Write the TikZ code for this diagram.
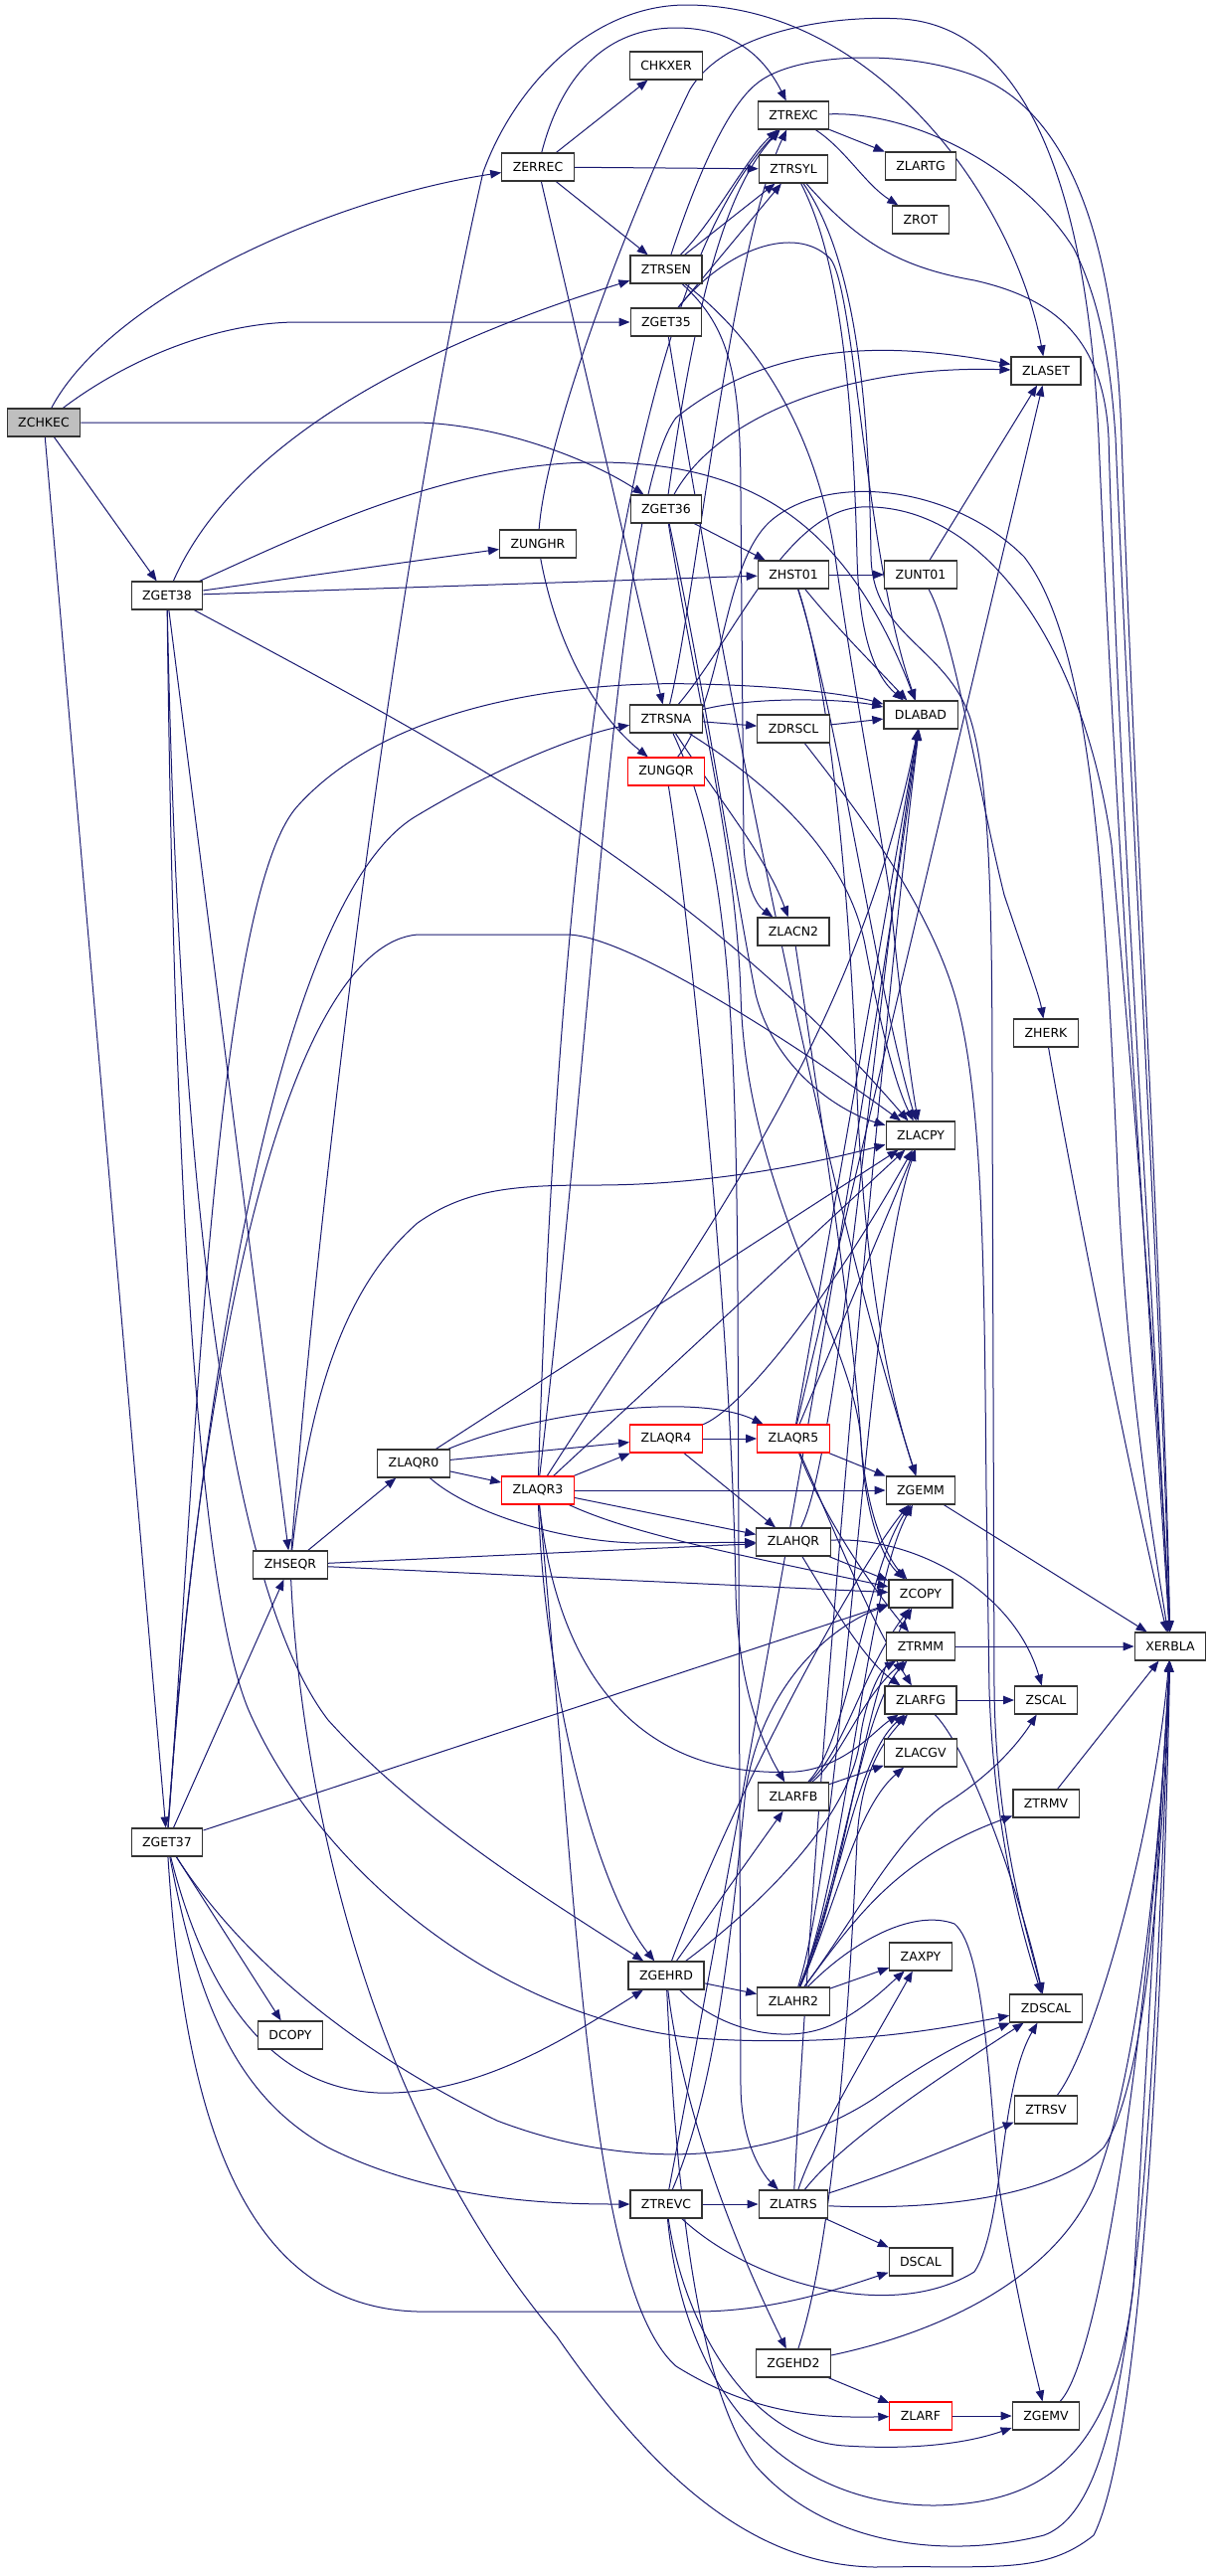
\documentclass[tikz,border=0pt]{standalone}
\usepackage{fontspec}
\setmainfont{DejaVu Sans}
\usetikzlibrary{arrows.meta}
\definecolor{edgec}{HTML}{191970}
\definecolor{rootfill}{HTML}{BFBFBF}
\definecolor{boxline}{HTML}{333333}
\pgfdeclarelayer{edges}
\pgfsetlayers{edges,main}
\begin{document}
\begin{tikzpicture}[x=1pt,y=-1pt,
  nb/.style={draw=boxline, line width=1.2pt, fill=white, minimum height=28pt, inner xsep=11pt, inner ysep=0pt, font=\fontsize{12.5}{14}\selectfont},
  rb/.style={nb, draw=red},
  edg/.style={draw=edgec, line width=1pt, -{Triangle[length=11pt,width=8.5pt]}}]
\useasboundingbox (0,0) rectangle (1216,2591);
\node[nb,fill=rootfill] (ZCHKEC) at (44,425) {ZCHKEC};
\node[nb] (ZERREC) at (541,168) {ZERREC};
\node[nb] (CHKXER) at (670,66) {CHKXER};
\node[nb] (ZTREXC) at (798,116) {ZTREXC};
\node[nb] (ZTRSYL) at (798,170) {ZTRSYL};
\node[nb] (ZLARTG) at (926,167) {ZLARTG};
\node[nb] (ZROT) at (926,221) {ZROT};
\node[nb] (ZTRSEN) at (670,271) {ZTRSEN};
\node[nb] (ZGET35) at (670,324) {ZGET35};
\node[nb] (ZLASET) at (1052,373) {ZLASET};
\node[nb] (ZGET38) at (168,599) {ZGET38};
\node[nb] (ZUNGHR) at (541,547) {ZUNGHR};
\node[nb] (ZGET36) at (670,512) {ZGET36};
\node[nb] (ZHST01) at (798,578) {ZHST01};
\node[nb] (ZUNT01) at (926,578) {ZUNT01};
\node[nb] (ZTRSNA) at (670,723) {ZTRSNA};
\node[nb] (ZDRSCL) at (798,733) {ZDRSCL};
\node[nb] (DLABAD) at (926,719) {DLABAD};
\node[rb] (ZUNGQR) at (670,776) {ZUNGQR};
\node[nb] (ZLACN2) at (798,937) {ZLACN2};
\node[nb] (ZHERK) at (1052,1039) {ZHERK};
\node[nb] (ZLACPY) at (926,1142) {ZLACPY};
\node[nb] (ZLAQR0) at (416,1472) {ZLAQR0};
\node[rb] (ZLAQR3) at (541,1499) {ZLAQR3};
\node[nb] (ZHSEQR) at (292,1574) {ZHSEQR};
\node[rb] (ZLAQR4) at (670,1447) {ZLAQR4};
\node[rb] (ZLAQR5) at (798,1447) {ZLAQR5};
\node[nb] (ZGEMM) at (926,1499) {ZGEMM};
\node[nb] (ZLAHQR) at (798,1551) {ZLAHQR};
\node[nb] (ZCOPY) at (926,1603) {ZCOPY};
\node[nb] (ZTRMM) at (926,1656) {ZTRMM};
\node[nb] (XERBLA) at (1177,1656) {XERBLA};
\node[nb] (ZLARFG) at (926,1710) {ZLARFG};
\node[nb] (ZSCAL) at (1052,1710) {ZSCAL};
\node[nb] (ZGET37) at (168,1853) {ZGET37};
\node[nb] (DCOPY) at (292,2047) {DCOPY};
\node[nb] (ZLACGV) at (926,1763) {ZLACGV};
\node[nb] (ZLARFB) at (798,1807) {ZLARFB};
\node[nb] (ZTRMV) at (1052,1814) {ZTRMV};
\node[nb] (ZGEHRD) at (670,1987) {ZGEHRD};
\node[nb] (ZAXPY) at (926,1968) {ZAXPY};
\node[nb] (ZLAHR2) at (798,2013) {ZLAHR2};
\node[nb] (ZDSCAL) at (1052,2020) {ZDSCAL};
\node[nb] (ZTRSV) at (1052,2122) {ZTRSV};
\node[nb] (ZTREVC) at (670,2217) {ZTREVC};
\node[nb] (ZLATRS) at (798,2217) {ZLATRS};
\node[nb] (DSCAL) at (926,2275) {DSCAL};
\node[nb] (ZGEHD2) at (798,2377) {ZGEHD2};
\node[rb] (ZLARF) at (926,2430) {ZLARF};
\node[nb] (ZGEMV) at (1052,2430) {ZGEMV};

\begin{pgfonlayer}{edges}
% ZCHKEC
\draw[edg] (ZCHKEC) .. controls (110,300) and (330,200) .. (ZERREC);
\draw[edg] (ZCHKEC) .. controls (130,360) and (220,324) .. (300,324) -- (ZGET35);
\draw[edg] (ZCHKEC) -- (420,425) .. controls (500,427) and (590,460) .. (ZGET36);
\draw[edg] (ZCHKEC) -- (ZGET38);
\draw[edg] (ZCHKEC) -- (ZGET37);
% ZERREC
\draw[edg] (ZERREC) -- (CHKXER);
\draw[edg] (ZERREC) .. controls (565,75) and (610,28) .. (680,28) .. controls (740,28) and (770,60) .. (ZTREXC);
\draw[edg] (ZERREC) -- (ZTRSYL);
\draw[edg] (ZERREC) -- (ZTRSEN);
\draw[edg] (ZERREC) -- (ZTRSNA);
% ZGET35
\draw[edg] (ZGET35) -- (ZTRSYL);
\draw[edg] (ZGET35) .. controls (730,250) and (800,225) .. (835,260) .. controls (860,290) and (870,560) .. (DLABAD);
\draw[edg] (ZGET35) .. controls (730,700) and (830,1200) .. (ZGEMM);
% ZTRSYL
\draw[edg] (ZTRSYL) .. controls (845,260) and (858,400) .. (862,560) .. controls (864,640) and (880,680) .. (DLABAD);
\draw[edg] (ZTRSYL) .. controls (860,260) and (874,400) .. (876,560) .. controls (878,640) and (950,650) .. (975,720) .. controls (995,780) and (998,900) .. (998,1100) -- (1000,1700) .. controls (1002,1850) and (1035,1950) .. (ZDSCAL);
\draw[edg] (ZTRSYL) .. controls (860,240) and (900,268) .. (980,282) .. controls (1060,300) and (1110,340) .. (1115,440) .. controls (1125,800) and (1160,1300) .. (XERBLA);
% ZTREXC
\draw[edg] (ZTREXC) -- (ZLARTG);
\draw[edg] (ZTREXC) .. controls (850,150) and (870,185) .. (ZROT);
\draw[edg] (ZTREXC) .. controls (920,112) and (1030,170) .. (1080,250) .. controls (1110,310) and (1118,380) .. (1122,440) .. controls (1137,800) and (1167,1300) .. (XERBLA);
% ZTRSEN
\draw[edg] (ZTRSEN) .. controls (720,220) and (750,160) .. (ZTREXC);
\draw[edg] (ZTRSEN) -- (ZTRSYL);
\draw[edg] (ZTRSEN) .. controls (735,330) and (745,380) .. (745,500) -- (748,850) .. controls (750,890) and (760,910) .. (ZLACN2);
\draw[edg] (ZTRSEN) .. controls (760,340) and (820,430) .. (840,560) .. controls (860,700) and (880,800) .. (895,900) .. controls (905,1000) and (915,1080) .. (ZLACPY);
\draw[edg] (ZTRSEN) .. controls (700,180) and (730,110) .. (760,85) .. controls (800,50) and (930,48) .. (1000,85) .. controls (1080,130) and (1122,250) .. (1128,440) .. controls (1140,800) and (1170,1300) .. (XERBLA);
% ZGET36
\draw[edg] (ZGET36) .. controls (700,300) and (730,190) .. (ZTREXC);
\draw[edg] (ZGET36) .. controls (720,420) and (850,367) .. (ZLASET);
\draw[edg] (ZGET36) -- (ZHST01);
\draw[edg] (ZGET36) .. controls (710,700) and (740,900) .. (760,1000) .. controls (780,1080) and (850,1120) .. (ZLACPY);
\draw[edg] (ZGET36) .. controls (700,700) and (740,850) .. (745,1000) .. controls (750,1200) and (860,1350) .. (866,1450) .. controls (870,1530) and (890,1570) .. (ZCOPY);
% ZGET38
\draw[edg] (ZGET38) .. controls (220,480) and (350,370) .. (ZTRSEN);
\draw[edg] (ZGET38) -- (ZUNGHR);
\draw[edg] (ZGET38) .. controls (300,540) and (450,465) .. (600,465) .. controls (750,465) and (850,520) .. (DLABAD);
\draw[edg] (ZGET38) -- (ZHST01);
\draw[edg] (ZGET38) .. controls (450,750) and (700,880) .. (ZLACPY);
\draw[edg] (ZGET38) -- (ZHSEQR);
\draw[edg] (ZGET38) .. controls (180,1200) and (230,1600) .. (330,1730) .. controls (420,1830) and (550,1910) .. (ZGEHRD);
\draw[edg] (ZGET38) .. controls (175,1200) and (200,1600) .. (250,1720) .. controls (320,1880) and (500,2030) .. (700,2050) .. controls (850,2060) and (950,2040) .. (ZDSCAL);
% ZGET37
\draw[edg] (ZGET37) -- (ZHSEQR);
\draw[edg] (ZGET37) -- (ZCOPY);
\draw[edg] (ZGET37) .. controls (200,1400) and (280,900) .. (420,820) .. controls (520,760) and (600,735) .. (ZTRSNA);
\draw[edg] (ZGET37) .. controls (195,1500) and (215,900) .. (300,810) .. controls (400,700) and (600,685) .. (700,688) .. controls (800,690) and (860,700) .. (DLABAD);
\draw[edg] (ZGET37) .. controls (205,1300) and (300,950) .. (420,940) -- (570,940) .. controls (630,940) and (800,1050) .. (ZLACPY);
\draw[edg] (ZGET37) -- (DCOPY);
\draw[edg] (ZGET37) .. controls (210,2020) and (280,2100) .. (380,2105) .. controls (480,2108) and (570,2050) .. (ZGEHRD);
\draw[edg] (ZGET37) .. controls (200,2020) and (240,2110) .. (330,2160) .. controls (440,2215) and (560,2217) .. (ZTREVC);
\draw[edg] (ZGET37) .. controls (185,2120) and (240,2320) .. (420,2325) -- (700,2325) .. controls (780,2325) and (850,2300) .. (DSCAL);
\draw[edg] (ZGET37) .. controls (230,1950) and (330,2050) .. (500,2133) .. controls (650,2190) and (790,2170) .. (880,2110) .. controls (950,2060) and (990,2045) .. (ZDSCAL);
% ZUNGHR
\draw[edg] (ZUNGHR) .. controls (560,650) and (600,720) .. (ZUNGQR);
\draw[edg] (ZUNGHR) .. controls (550,430) and (640,200) .. (694,90) .. controls (730,30) and (840,15) .. (907,19) .. controls (1000,25) and (1090,120) .. (1105,440) .. controls (1120,800) and (1155,1300) .. (XERBLA);
% ZUNGQR
\draw[edg] (ZUNGQR) .. controls (690,900) and (735,1300) .. (740,1600) .. controls (742,1700) and (770,1760) .. (ZLARFB);
\draw[edg] (ZUNGQR) .. controls (730,700) and (725,560) .. (780,520) .. controls (840,475) and (960,490) .. (1030,560) .. controls (1100,650) and (1112,900) .. (1125,1200) .. controls (1135,1400) and (1160,1550) .. (XERBLA);
% ZTRSNA
\draw[edg] (ZTRSNA) .. controls (760,700) and (850,703) .. (DLABAD);
\draw[edg] (ZTRSNA) -- (ZDRSCL);
\draw[edg] (ZTRSNA) .. controls (700,600) and (735,250) .. (ZTREXC);
\draw[edg] (ZTRSNA) .. controls (720,800) and (770,860) .. (ZLACN2);
\draw[edg] (ZTRSNA) .. controls (760,780) and (850,850) .. (870,950) .. controls (885,1030) and (900,1090) .. (ZLACPY);
\draw[edg] (ZTRSNA) .. controls (730,850) and (740,1000) .. (742,1300) -- (745,2100) .. controls (746,2160) and (770,2190) .. (ZLATRS);
\draw[edg] (ZTRSNA) .. controls (740,640) and (790,515) .. (866,510) .. controls (990,505) and (1090,650) .. (1118,850) .. controls (1140,1100) and (1165,1400) .. (XERBLA);
% ZDRSCL
\draw[edg] (ZDRSCL) -- (DLABAD);
\draw[edg] (ZDRSCL) .. controls (850,800) and (930,900) .. (960,1000) .. controls (990,1100) and (990,1300) .. (992,1500) -- (995,1700) .. controls (1000,1850) and (1030,1950) .. (ZDSCAL);
% ZHST01
\draw[edg] (ZHST01) -- (ZUNT01);
\draw[edg] (ZHST01) .. controls (840,630) and (880,670) .. (DLABAD);
\draw[edg] (ZHST01) .. controls (830,680) and (860,850) .. (880,950) .. controls (895,1030) and (910,1090) .. (ZLACPY);
\draw[edg] (ZHST01) .. controls (835,690) and (855,900) .. (862,1100) .. controls (870,1300) and (900,1420) .. (ZGEMM);
% ZUNT01, ZHERK, ZLACN2
\draw[edg] (ZUNT01) -- (ZLASET);
\draw[edg] (ZUNT01) .. controls (960,640) and (985,800) .. (1010,900) .. controls (1030,960) and (1045,1000) .. (ZHERK);
\draw[edg] (ZHERK) .. controls (1080,1200) and (1140,1500) .. (XERBLA);
\draw[edg] (ZLACN2) .. controls (830,1150) and (860,1350) .. (866,1450) .. controls (872,1530) and (895,1570) .. (ZCOPY);
% ZHSEQR
\draw[edg] (ZHSEQR) -- (ZLAQR0);
\draw[edg] (ZHSEQR) -- (ZLAHQR);
\draw[edg] (ZHSEQR) -- (ZCOPY);
\draw[edg] (ZHSEQR) .. controls (310,1420) and (340,1300) .. (420,1230) .. controls (470,1195) and (520,1192) .. (600,1192) .. controls (700,1192) and (800,1175) .. (ZLACPY);
\draw[edg] (ZHSEQR) .. controls (320,1200) and (400,550) .. (486,173) .. controls (520,80) and (600,5) .. (690,5) .. controls (880,5) and (1020,200) .. (ZLASET);
\draw[edg] (ZHSEQR) .. controls (300,1750) and (350,2100) .. (560,2350) .. controls (650,2480) and (750,2580) .. (880,2582) .. controls (1000,2580) and (1050,2590) .. (1100,2550) .. controls (1150,2450) and (1170,2000) .. (XERBLA);
% ZLAQR0
\draw[edg] (ZLAQR0) -- (ZLAQR3);
\draw[edg] (ZLAQR0) -- (ZLAQR4);
\draw[edg] (ZLAQR0) .. controls (540,1420) and (700,1400) .. (ZLAQR5);
\draw[edg] (ZLAQR0) -- (ZLACPY);
\draw[edg] (ZLAQR0) .. controls (470,1520) and (560,1550) .. (640,1552) -- (ZLAHQR);
% ZLAQR3
\draw[edg] (ZLAQR3) -- (ZLAQR4);
\draw[edg] (ZLAQR3) -- (ZGEMM);
\draw[edg] (ZLAQR3) -- (ZLAHQR);
\draw[edg] (ZLAQR3) .. controls (640,1545) and (760,1567) .. (ZCOPY);
\draw[edg] (ZLAQR3) -- (ZLACPY);
\draw[edg] (ZLAQR3) .. controls (700,1250) and (860,1050) .. (DLABAD);
\draw[edg] (ZLAQR3) .. controls (600,1000) and (620,500) .. (680,420) .. controls (780,340) and (900,345) .. (ZLASET);
\draw[edg] (ZLAQR3) .. controls (560,900) and (620,300) .. (ZTREXC);
\draw[edg] (ZLAQR3) .. controls (548,1700) and (600,1900) .. (ZGEHRD);
\draw[edg] (ZLAQR3) .. controls (560,1680) and (640,1790) .. (800,1782) .. controls (850,1778) and (880,1740) .. (ZLARFG);
\draw[edg] (ZLAQR3) .. controls (580,1900) and (590,2300) .. (680,2380) .. controls (760,2430) and (830,2432) .. (ZLARF);
% ZLAQR4
\draw[edg] (ZLAQR4) -- (ZLAQR5);
\draw[edg] (ZLAQR4) -- (ZLAHQR);
\draw[edg] (ZLAQR4) .. controls (740,1420) and (820,1330) .. (ZLACPY);
% ZLAQR5
\draw[edg] (ZLAQR5) -- (ZGEMM);
\draw[edg] (ZLAQR5) -- (ZLACPY);
\draw[edg] (ZLAQR5) -- (ZLASET);
\draw[edg] (ZLAQR5) -- (DLABAD);
\draw[edg] (ZLAQR5) .. controls (830,1530) and (880,1600) .. (ZTRMM);
\draw[edg] (ZLAQR5) .. controls (840,1540) and (870,1620) .. (ZLARFG);
% ZLAHQR
\draw[edg] (ZLAHQR) -- (ZCOPY);
\draw[edg] (ZLAHQR) .. controls (920,1545) and (1020,1600) .. (ZSCAL);
\draw[edg] (ZLAHQR) .. controls (840,1620) and (870,1670) .. (ZLARFG);
\draw[edg] (ZLAHQR) .. controls (845,1460) and (880,1000) .. (DLABAD);
% leaves to XERBLA etc.
\draw[edg] (ZGEMM) -- (XERBLA);
\draw[edg] (ZTRMM) -- (XERBLA);
\draw[edg] (ZLARFG) -- (ZSCAL);
\draw[edg] (ZLARFG) .. controls (975,1760) and (1025,1900) .. (ZDSCAL);
% ZGEHRD
\draw[edg] (ZGEHRD) -- (ZLAHR2);
\draw[edg] (ZGEHRD) -- (ZLARFB);
\draw[edg] (ZGEHRD) .. controls (740,1800) and (860,1580) .. (ZGEMM);
\draw[edg] (ZGEHRD) .. controls (760,1920) and (855,1830) .. (865,1750) .. controls (870,1710) and (885,1680) .. (ZTRMM);
\draw[edg] (ZGEHRD) .. controls (720,2040) and (790,2060) .. (840,2035) .. controls (870,2020) and (890,2000) .. (ZAXPY);
\draw[edg] (ZGEHRD) .. controls (690,2150) and (760,2300) .. (ZGEHD2);
\draw[edg] (ZGEHRD) .. controls (680,2200) and (700,2400) .. (760,2480) .. controls (830,2560) and (950,2575) .. (1050,2550) .. controls (1130,2520) and (1155,2300) .. (XERBLA);
% ZLAHR2
\draw[edg] (ZLAHR2) -- (ZAXPY);
\draw[edg] (ZLAHR2) .. controls (850,1900) and (868,1700) .. (ZCOPY);
\draw[edg] (ZLAHR2) .. controls (852,1880) and (870,1600) .. (ZGEMM);
\draw[edg] (ZLAHR2) .. controls (850,1850) and (870,1300) .. (ZLACPY);
\draw[edg] (ZLAHR2) .. controls (845,1900) and (860,1770) .. (ZLARFG);
\draw[edg] (ZLAHR2) .. controls (848,1890) and (866,1720) .. (ZTRMM);
\draw[edg] (ZLAHR2) .. controls (840,1920) and (860,1820) .. (ZLACGV);
\draw[edg] (ZLAHR2) .. controls (860,1930) and (900,1850) .. (950,1815) .. controls (990,1790) and (1020,1760) .. (ZSCAL);
\draw[edg] (ZLAHR2) .. controls (860,1930) and (900,1870) .. (ZTRMV);
\draw[edg] (ZLAHR2) .. controls (860,1950) and (920,1920) .. (960,1935) .. controls (990,1960) and (995,2100) .. (1005,2200) .. controls (1020,2300) and (1040,2380) .. (ZGEMV);
% ZLARFB
\draw[edg] (ZLARFB) -- (ZLACGV);
\draw[edg] (ZLARFB) .. controls (850,1760) and (868,1680) .. (ZCOPY);
\draw[edg] (ZLARFB) .. controls (855,1750) and (870,1580) .. (ZGEMM);
\draw[edg] (ZLARFB) .. controls (845,1770) and (865,1710) .. (ZTRMM);
% ZTREVC
\draw[edg] (ZTREVC) -- (ZLATRS);
\draw[edg] (ZTREVC) .. controls (720,2100) and (735,1950) .. (750,1800) .. controls (770,1680) and (850,1630) .. (ZCOPY);
\draw[edg] (ZTREVC) .. controls (760,2300) and (900,2335) .. (980,2285) .. controls (1010,2240) and (1005,2100) .. (ZDSCAL);
\draw[edg] (ZTREVC) .. controls (690,2350) and (760,2455) .. (850,2460) .. controls (930,2465) and (980,2455) .. (ZGEMV);
\draw[edg] (ZTREVC) .. controls (730,1900) and (860,1200) .. (DLABAD);
\draw[edg] (ZTREVC) .. controls (690,2420) and (800,2520) .. (940,2520) .. controls (1050,2518) and (1120,2470) .. (1140,2300) -- (XERBLA);
% ZLATRS
\draw[edg] (ZLATRS) -- (DSCAL);
\draw[edg] (ZLATRS) .. controls (900,2185) and (980,2150) .. (ZTRSV);
\draw[edg] (ZLATRS) .. controls (850,2150) and (960,2080) .. (ZDSCAL);
\draw[edg] (ZLATRS) .. controls (820,2150) and (880,2050) .. (ZAXPY);
\draw[edg] (ZLATRS) .. controls (820,1800) and (880,1100) .. (DLABAD);
\draw[edg] (ZLATRS) .. controls (900,2222) and (1050,2220) .. (1110,2160) .. controls (1150,2100) and (1168,1900) .. (XERBLA);
% ZGEHD2
\draw[edg] (ZGEHD2) -- (ZLARF);
\draw[edg] (ZGEHD2) .. controls (840,2250) and (855,2000) .. (862,1850) .. controls (866,1780) and (890,1750) .. (ZLARFG);
\draw[edg] (ZGEHD2) .. controls (950,2345) and (1060,2290) .. (1100,2200) .. controls (1140,2100) and (1165,1900) .. (XERBLA);
% rest
\draw[edg] (ZLARF) -- (ZGEMV);
\draw[edg] (ZGEMV) .. controls (1110,2370) and (1160,2000) .. (XERBLA);
\draw[edg] (ZTRSV) .. controls (1100,2060) and (1160,1850) .. (XERBLA);
\draw[edg] (ZTRMV) -- (XERBLA);
\end{pgfonlayer}
\end{tikzpicture}
\end{document}
